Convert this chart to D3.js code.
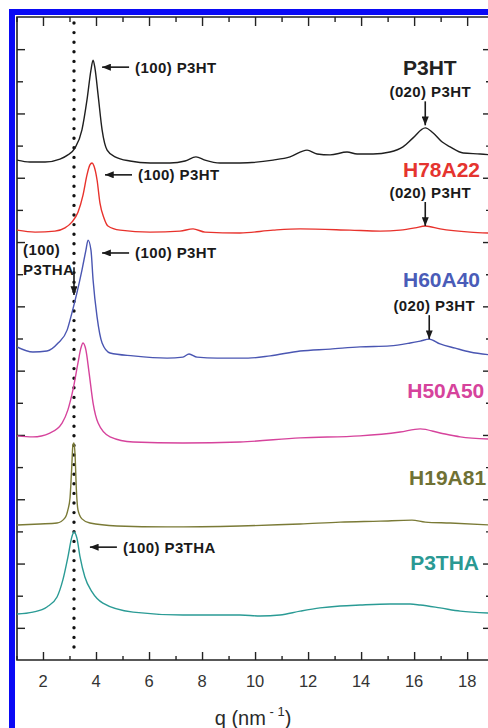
<!DOCTYPE html>
<html>
<head>
<meta charset="utf-8">
<script src="https://cdn.jsdelivr.net/npm/d3@7"></script>
<style>
  html, body { margin: 0; padding: 0; background: #fff; }
  svg { display: block; font-family: "Liberation Sans", Arial, Helvetica, sans-serif; }
</style>
</head>
<body>
<svg id="chart" width="488" height="728"></svg>
<script>
// Stacked XRD / GIXS profiles, intensity in offset arbitrary units
const seriesNames  = ["P3HT", "H78A22", "H60A40", "H50A50", "H19A81", "P3THA"];
const seriesColors = ["#1f1f1f", "#e8322c", "#4a56b2", "#d6439c", "#7a7a36", "#2a9b95"];
const labelColors  = ["#222222", "#e5342f", "#4a5cb8", "#d6439c", "#6f7134", "#2a9993"];

const qP3HT = [1.02,1.51,2.08,2.64,2.94,3.21,3.47,3.66,3.81,3.89,3.96,4.08,4.23,4.42,4.72,5.28,6.04,6.79,7.36,7.77,8.11,8.68,9.43,10.68,11.32,11.96,12.34,12.83,13.47,13.85,14.45,15.09,15.58,15.96,16.42,16.72,17.06,17.36,17.85,18.49,18.9];
const iP3HT = [15.55,15.49,15.49,15.58,15.71,15.93,16.49,17.42,18.35,18.66,18.41,17.57,16.49,15.86,15.65,15.52,15.46,15.46,15.52,15.65,15.55,15.46,15.46,15.55,15.65,15.86,15.74,15.71,15.80,15.74,15.74,15.80,15.96,16.24,16.55,16.39,16.11,15.96,15.77,15.74,15.71];

const qH78A22 = [1.02,1.70,2.45,2.83,3.09,3.32,3.51,3.66,3.77,3.85,3.92,4.04,4.15,4.30,4.45,4.91,6.04,7.17,7.66,8.11,9.43,10.68,11.70,13.58,14.72,15.47,16.04,16.42,16.98,18.11,18.9];
const iH78A22 = [13.37,13.31,13.34,13.44,13.62,13.93,14.46,15.09,15.40,15.46,15.37,14.93,14.21,13.75,13.50,13.37,13.31,13.34,13.41,13.31,13.28,13.37,13.41,13.37,13.34,13.37,13.44,13.50,13.41,13.31,13.28];

const qH60A40 = [1.02,1.62,2.15,2.57,2.91,3.09,3.28,3.47,3.62,3.70,3.81,3.89,4.04,4.23,4.53,5.40,6.68,7.28,7.51,7.81,8.57,9.74,10.57,11.70,12.83,13.96,15.09,15.85,16.23,16.57,16.98,17.55,18.11,18.9];
const iH60A40 = [9.74,9.58,9.61,9.86,10.26,10.79,11.42,12.13,12.75,13.06,12.75,11.82,10.67,9.86,9.55,9.46,9.39,9.42,9.52,9.42,9.39,9.39,9.46,9.61,9.67,9.74,9.77,9.86,9.92,9.98,9.83,9.70,9.58,9.49];

const qH50A50 = [1.02,1.62,2.26,2.72,2.94,3.13,3.32,3.43,3.51,3.62,3.74,3.89,4.08,4.53,5.40,7.28,9.43,11.70,13.96,15.47,16.23,16.98,17.74,18.9];
const iH50A50 = [6.97,6.94,7.06,7.37,7.78,8.40,9.24,9.70,9.86,9.64,8.93,7.99,7.37,6.94,6.78,6.75,6.78,6.91,6.97,7.09,7.19,7.06,6.94,6.87];

const qH19A81 = [1.02,1.89,2.53,2.83,2.94,3.02,3.08,3.13,3.17,3.21,3.26,3.32,3.47,3.77,4.79,6.68,9.43,11.70,13.21,14.72,15.92,16.42,17.36,18.9];
const iH19A81 = [4.20,4.23,4.26,4.42,4.67,5.04,5.91,6.69,6.75,6.38,5.29,4.67,4.39,4.26,4.17,4.14,4.17,4.23,4.29,4.32,4.35,4.29,4.26,4.20];

const qP3THA = [1.02,1.62,2.15,2.53,2.75,2.94,3.09,3.17,3.28,3.40,3.58,3.85,4.26,5.40,7.28,9.43,10.19,10.94,11.70,12.45,13.21,13.96,15.09,15.85,16.23,16.98,17.74,18.9];
const iP3THA = [1.43,1.49,1.65,1.96,2.49,3.20,3.83,3.98,3.79,3.20,2.58,2.12,1.77,1.49,1.40,1.40,1.37,1.40,1.52,1.62,1.68,1.71,1.74,1.74,1.71,1.62,1.52,1.46];

const seriesQ = [qP3HT, qH78A22, qH60A40, qH50A50, qH19A81, qP3THA];
const seriesI = [iP3HT, iH78A22, iH60A40, iH50A50, iH19A81, iP3THA];

// Series name labels (start of text in q, baseline in intensity units)
const labelQ = [15.58, 15.58, 15.58, 15.74, 15.81, 15.85];
const labelI = [18.20, 15.02, 11.60, 8.15, 5.44, 2.80];

// (100) reflections: horizontal arrows pointing back at the peak
const hkl100Text = ["(100) P3HT", "(100) P3HT", "(100) P3HT", "(100) P3THA"];
const hkl100Q    = [4.23, 4.34, 4.23, 3.77];
const hkl100I    = [18.44, 15.09, 12.66, 3.51];

// (020) reflections: vertical arrows down onto the peak
const hkl020Text = ["(020) P3HT", "(020) P3HT", "(020) P3HT"];
const hkl020Q    = [16.42, 16.42, 16.57];
const hkl020I    = [16.63, 13.50, 9.98];

// P3THA (100) position, marked by the dotted line
const p3thaQ = 3.17;

const xTicks = [2, 4, 6, 8, 10, 12, 14, 16, 18];

// ---------------------------------------------------------------
const svg = d3.select("#chart");
const W = 488, H = 728;
const plot = { left: 17, right: 491, top: 17, bottom: 660 };

const x = d3.scaleLinear().domain([1.02, 18.9]).range([plot.left, plot.right]);
const y = d3.scaleLinear().domain([0, 20]).range([plot.bottom, plot.top]);

// Blue selection border
svg.append("rect").attr("x", 9).attr("y", 9).attr("width", W).attr("height", 6).attr("fill", "#0a0af5");
svg.append("rect").attr("x", 9).attr("y", 9).attr("width", 6).attr("height", H).attr("fill", "#0a0af5");

const defs = svg.append("defs");
defs.append("clipPath").attr("id", "plotClip")
  .append("rect")
  .attr("x", plot.left).attr("y", plot.top)
  .attr("width", plot.right - plot.left).attr("height", plot.bottom - plot.top);

defs.append("marker")
  .attr("id", "arrowHead")
  .attr("viewBox", "0 0 10 8")
  .attr("refX", 10).attr("refY", 4)
  .attr("markerWidth", 9).attr("markerHeight", 7)
  .attr("markerUnits", "userSpaceOnUse")
  .attr("orient", "auto")
  .append("path").attr("d", "M0,0 L10,4 L0,8 Z").attr("fill", "#1a1a1a");

// Axes: major and minor ticks pointing inward on all four sides
const xMajor = d3.range(2, 19, 2), xMinor = d3.range(1, 19, 2);
const yMajor = d3.range(1, 20, 2), yMinor = d3.range(2, 20, 2);
const axisColor = "#222";

function styleAxis(g) {
  g.select(".domain").remove();
  g.selectAll(".tick line").attr("stroke", axisColor).attr("stroke-width", 1.4);
}

svg.append("g").attr("transform", `translate(0,${plot.bottom})`)
  .call(d3.axisTop(x).tickValues(xMinor).tickSize(4).tickFormat(""))
  .call(styleAxis);
svg.append("g").attr("transform", `translate(0,${plot.bottom})`)
  .call(d3.axisTop(x).tickValues(xMajor).tickSize(8).tickFormat(""))
  .call(styleAxis);
svg.append("g").attr("transform", `translate(0,${plot.top})`)
  .call(d3.axisBottom(x).tickValues(xMinor).tickSize(5).tickFormat(""))
  .call(styleAxis);
svg.append("g").attr("transform", `translate(0,${plot.top})`)
  .call(d3.axisBottom(x).tickValues(xMajor).tickSize(9).tickFormat(""))
  .call(styleAxis);
svg.append("g").attr("transform", `translate(${plot.left},0)`)
  .call(d3.axisRight(y).tickValues(yMinor).tickSize(6).tickFormat(""))
  .call(styleAxis);
svg.append("g").attr("transform", `translate(${plot.left},0)`)
  .call(d3.axisRight(y).tickValues(yMajor).tickSize(8).tickFormat(""))
  .call(styleAxis);
svg.append("g").attr("transform", `translate(${plot.right},0)`)
  .call(d3.axisLeft(y).tickValues(yMinor).tickSize(5).tickFormat(""))
  .call(styleAxis);
svg.append("g").attr("transform", `translate(${plot.right},0)`)
  .call(d3.axisLeft(y).tickValues(yMajor).tickSize(8).tickFormat(""))
  .call(styleAxis);

// Frame
svg.append("path")
  .attr("d", `M${plot.right},${plot.top} L${plot.left},${plot.top} L${plot.left},${plot.bottom} L${plot.right},${plot.bottom}`)
  .attr("fill", "none").attr("stroke", axisColor).attr("stroke-width", 1.6);
svg.append("line")
  .attr("x1", plot.right).attr("x2", plot.right).attr("y1", plot.top).attr("y2", plot.bottom)
  .attr("stroke", axisColor).attr("stroke-width", 1.6);

// Tick labels
svg.append("g").selectAll("text").data(xTicks).join("text")
  .attr("x", d => x(d)).attr("y", plot.bottom + 27)
  .attr("text-anchor", "middle")
  .attr("font-size", 16.5).attr("fill", "#333")
  .text(d => d);

// Axis title q (nm^-1)
const title = svg.append("text")
  .attr("x", 253).attr("y", 725)
  .attr("text-anchor", "middle")
  .attr("font-size", 20).attr("fill", "#2a2a2a");
title.append("tspan").text("q (nm");
title.append("tspan").attr("font-size", 13).attr("dy", -9).text(" - 1");
title.append("tspan").attr("dy", 9).text(")");

// Dotted marker at the P3THA (100) position
svg.append("line")
  .attr("x1", x(p3thaQ)).attr("x2", x(p3thaQ))
  .attr("y1", plot.top + 6).attr("y2", plot.bottom - 6)
  .attr("stroke", "#111").attr("stroke-width", 3.4)
  .attr("stroke-linecap", "round")
  .attr("stroke-dasharray", "0,9.6");

// Profiles
const line = d3.line()
  .x(d => x(d[0])).y(d => y(d[1]))
  .curve(d3.curveMonotoneX);

const curves = svg.append("g").attr("clip-path", "url(#plotClip)");
seriesNames.forEach((name, i) => {
  const pts = seriesQ[i].map((q, k) => [q, seriesI[i][k]]);
  curves.append("path")
    .datum(pts)
    .attr("d", line)
    .attr("fill", "none")
    .attr("stroke", seriesColors[i])
    .attr("stroke-width", 1.4)
    .attr("stroke-linejoin", "round");
});

// Series labels
svg.append("g").selectAll("text").data(seriesNames).join("text")
  .attr("x", (d, i) => x(labelQ[i]))
  .attr("y", (d, i) => y(labelI[i]))
  .attr("font-size", 21).attr("font-weight", "bold")
  .attr("fill", (d, i) => labelColors[i])
  .text(d => d);

// (100) annotations with horizontal arrows
const ann = svg.append("g").attr("fill", "#1a1a1a").attr("font-weight", "bold")
  .attr("font-size", 15).attr("letter-spacing", 0.4);
hkl100Text.forEach((t, i) => {
  const tipX = x(hkl100Q[i]), yy = y(hkl100I[i]);
  ann.append("line")
    .attr("x1", tipX + 27).attr("x2", tipX).attr("y1", yy).attr("y2", yy)
    .attr("stroke", "#1a1a1a").attr("stroke-width", 1.6)
    .attr("marker-end", "url(#arrowHead)");
  ann.append("text").attr("x", tipX + 33).attr("y", yy + 5.5).text(t);
});

// (020) annotations with downward arrows
hkl020Text.forEach((t, i) => {
  const xx = x(hkl020Q[i]), tipY = y(hkl020I[i]);
  ann.append("line")
    .attr("x1", xx).attr("x2", xx).attr("y1", tipY - 24).attr("y2", tipY)
    .attr("stroke", "#1a1a1a").attr("stroke-width", 1.6)
    .attr("marker-end", "url(#arrowHead)");
  ann.append("text").attr("x", xx + 5).attr("y", tipY - 28)
    .attr("text-anchor", "middle").text(t);
});

// (100) P3THA label at the dotted line
ann.append("text").attr("x", x(1.25)).attr("y", y(12.60)).text("(100)");
ann.append("text").attr("x", x(1.25)).attr("y", y(11.98)).text("P3THA");
ann.append("line")
  .attr("x1", x(p3thaQ)).attr("x2", x(p3thaQ))
  .attr("y1", y(12.22)).attr("y2", y(11.35))
  .attr("stroke", "#1a1a1a").attr("stroke-width", 1.6)
  .attr("marker-end", "url(#arrowHead)");
</script>
</body>
</html>
